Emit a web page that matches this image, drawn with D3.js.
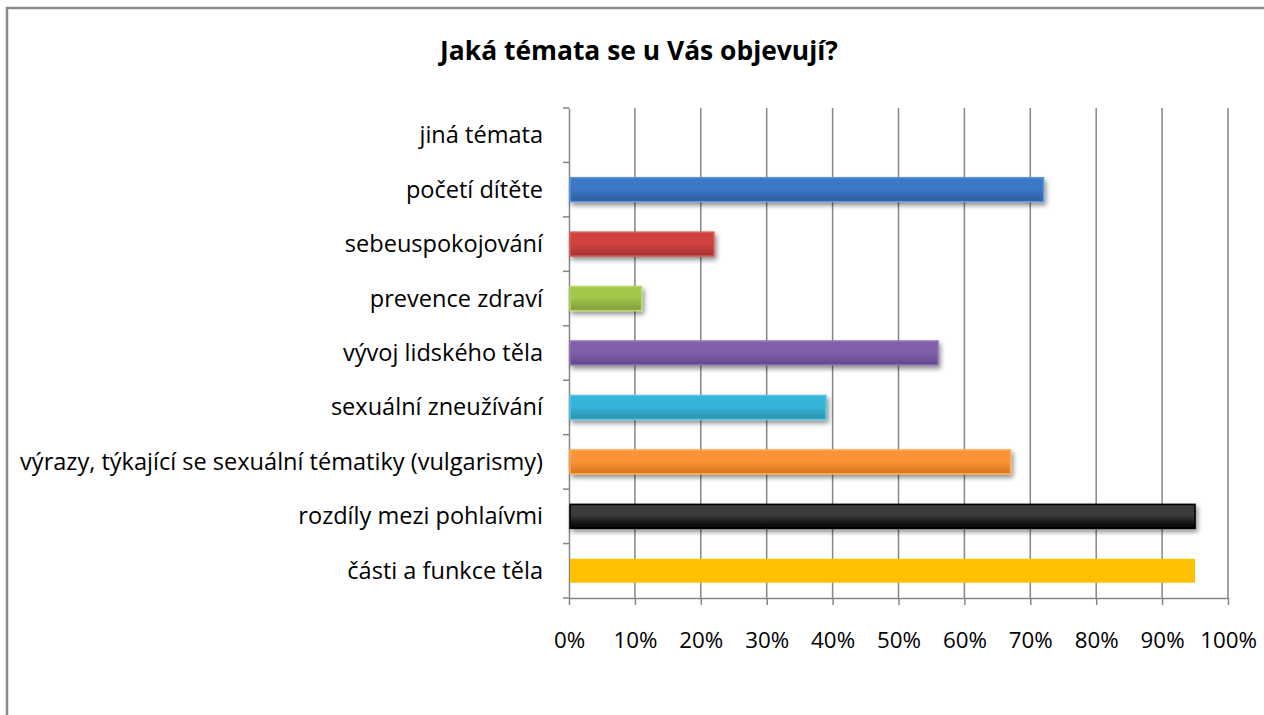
<!DOCTYPE html>
<html><head><meta charset="utf-8">
<script src="https://cdn.jsdelivr.net/npm/d3@7"></script>
<style>body{margin:0;background:#fff}svg{display:block}text{font-family:"Open Sans",Lato,sans-serif;fill:#000}</style>
</head><body><svg id="c" width="1264" height="715"></svg>
<script>
const categories = ["jiná témata","početí dítěte","sebeuspokojování","prevence zdraví","vývoj lidského těla ","sexuální zneužívání","výrazy, týkající se sexuální tématiky (vulgarismy)","rozdíly mezi pohlaívmi","části a funkce těla"];
const values = [0,0.72,0.22,0.11,0.56,0.39,0.67,0.95,0.95];
const barColors = [["#4f81bd","#3b78c7","#2d5e9c"],["#4f81bd","#3b78c7","#2d5e9c"],["#c0504d","#d04340","#a33230"],["#9bbb59","#a2c84a","#7f9c3c"],["#8064a2","#8060ab","#62478a"],["#4bacc6","#36b5d9","#2b8fad"],["#f79646","#fb9438","#d6741e"],["#000000","#3a3a3a","#000000"],["#ffc000","#ffc000","#ffc000"]];
const tickValues = [0,0.1,0.2,0.3,0.4,0.5,0.6,0.7,0.8,0.9,1];
const title = "Jaká témata se u Vás objevují?";

const svg = d3.select("#c");
const defs = svg.append("defs");
const f = defs.append("filter").attr("id","sh").attr("x","-10%").attr("y","-40%").attr("width","130%").attr("height","200%");
f.append("feGaussianBlur").attr("in","SourceAlpha").attr("stdDeviation",2.5);
f.append("feOffset").attr("dx",2).attr("dy",3).attr("result","b");
f.append("feComponentTransfer").append("feFuncA").attr("type","linear").attr("slope",0.45);
const m = f.append("feMerge"); m.append("feMergeNode"); m.append("feMergeNode").attr("in","SourceGraphic");

svg.append("rect").attr("x",7).attr("y",8).attr("width",1270).attr("height",720).attr("fill","#fff").attr("stroke","#8a8a8a").attr("stroke-width",2.5);

// measure helper
function fitSize(txt, weight, targetW){
  const t = svg.append("text").style("font-size","20px").style("font-weight",weight).text(txt);
  const w = t.node().getComputedTextLength(); t.remove();
  return 20*targetW/w;
}
const titleSize = fitSize(title,"bold",398);
const labelSize = fitSize(categories[6],"normal",523);
const tickSize = fitSize("10%","normal",44);

svg.append("text").attr("x",639).attr("y",60).attr("text-anchor","middle").style("font-size",titleSize+"px").style("font-weight","bold").text(title);

const x = d3.scaleLinear().domain([0,1]).range([569,1228]);
const y = d3.scaleBand().domain(categories).range([108,598]).paddingInner(0.56).paddingOuter(0.28);
const yTicks = d3.scaleBand().domain(categories).range([108,598]);

// gridlines
svg.append("g").selectAll("line").data(tickValues.slice(1)).join("line")
  .attr("x1",d=>x(d)).attr("x2",d=>x(d)).attr("y1",108).attr("y2",598)
  .attr("stroke","#868686").attr("stroke-width",1.5);

// y axis
const ya = svg.append("g").attr("transform","translate(569,0)").call(d3.axisLeft(yTicks).tickSize(0).tickPadding(26).tickSizeOuter(0));
ya.select(".domain").attr("stroke","#868686").attr("stroke-width",1.5);
ya.selectAll("text").style("font-size",labelSize+"px").attr("x",-26).attr("dy",null).attr("y",8);
const yb = [108, ...categories.map(c=>yTicks(c)+yTicks.bandwidth())];
svg.append("g").selectAll("line").data(yb).join("line").attr("x1",563).attr("x2",569).attr("y1",d=>d).attr("y2",d=>d).attr("stroke","#868686").attr("stroke-width",1.5);

// x axis
const xa = svg.append("g").attr("transform","translate(0,598)").call(d3.axisBottom(x).tickValues(tickValues).tickFormat(d3.format(".0%")).tickSize(7).tickSizeOuter(0));
xa.select(".domain").attr("stroke","#868686").attr("stroke-width",1.5);
xa.selectAll(".tick line").attr("stroke","#868686").attr("stroke-width",1.5);
xa.selectAll("text").style("font-size",tickSize+"px").attr("dy",null).attr("y",50);

// gradients
barColors.forEach((c,i)=>{
  const g = defs.append("linearGradient").attr("id","g"+i).attr("x1",0).attr("x2",0).attr("y1",0).attr("y2",1);
  g.append("stop").attr("offset","0%").attr("stop-color",c[1]);
  g.append("stop").attr("offset","45%").attr("stop-color",c[1]);
  g.append("stop").attr("offset","100%").attr("stop-color",c[2]);
});

const data = categories.map((c,i)=>({c,v:values[i],i}));
svg.append("g").selectAll("rect").data(data.filter(d=>d.v>0)).join("rect")
  .attr("x",x(0)+1).attr("y",d=>y(d.c)).attr("width",d=>x(d.v)-x(0)-1).attr("height",y.bandwidth())
  .attr("fill",d=>"url(#g"+d.i+")")
  .attr("stroke",d=>d.i===8?"none":d3.color(barColors[d.i][0]).brighter(0.4))
  .attr("stroke-width",1.5)
  .attr("filter",d=>d.i===8?null:"url(#sh)");
</script></body></html>
